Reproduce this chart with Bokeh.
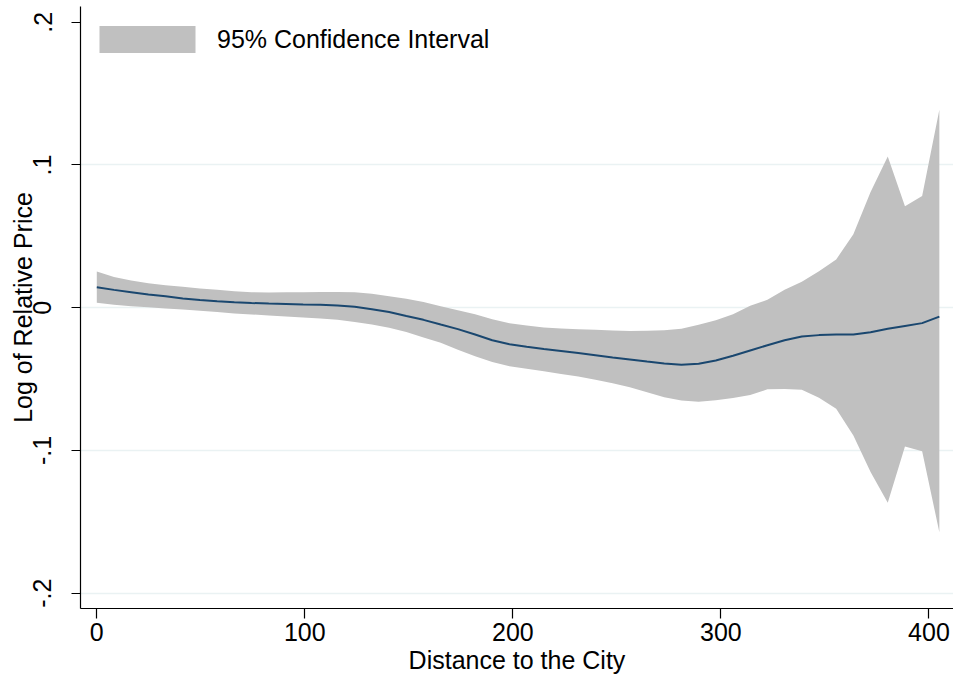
from bokeh.embed import file_html
from bokeh.models import (ColumnDataSource, FixedTicker, Legend, LegendItem,
                          Range1d)
from bokeh.plotting import figure
from bokeh.resources import INLINE

# Local polynomial fit of log relative price on distance, with 95% CI
distance = [0.0, 8.27, 16.53, 24.8, 33.06, 41.33, 49.59, 57.86, 66.12, 74.39,
            82.65, 90.92, 99.18, 107.45, 115.71, 123.98, 132.24, 140.51, 148.78, 157.04,
            165.31, 173.57, 181.84, 190.1, 198.37, 206.63, 214.9, 223.16, 231.43, 239.69,
            247.96, 256.22, 264.49, 272.76, 281.02, 289.29, 297.55, 305.82, 314.08, 322.35,
            330.61, 338.88, 347.14, 355.41, 363.67, 371.94, 380.2, 388.47, 396.73, 405.0]

fit = [0.0143, 0.0125, 0.0109, 0.0092, 0.0080, 0.0064, 0.0054, 0.0046, 0.0039, 0.0033,
       0.0029, 0.0026, 0.0023, 0.0021, 0.0016, 0.0006, -0.0010, -0.0030, -0.0058, -0.0085,
       -0.0118, -0.0150, -0.0188, -0.0228, -0.0256, -0.0274, -0.0290, -0.0303, -0.0318, -0.0333,
       -0.0348, -0.0362, -0.0377, -0.0390, -0.0400, -0.0392, -0.0370, -0.0337, -0.0300, -0.0263,
       -0.0228, -0.0202, -0.0192, -0.0188, -0.0188, -0.0172, -0.0148, -0.0128, -0.0108, -0.0062]

ci_upper = [0.0254, 0.0215, 0.0190, 0.0172, 0.0158, 0.0146, 0.0135, 0.0125, 0.0115, 0.0109,
            0.0107, 0.0108, 0.0109, 0.0110, 0.0110, 0.0108, 0.0098, 0.0080, 0.0062, 0.0040,
            0.0010, -0.0018, -0.0045, -0.0080, -0.0108, -0.0125, -0.0138, -0.0145, -0.0150, -0.0155,
            -0.0160, -0.0163, -0.0162, -0.0158, -0.0148, -0.0120, -0.0088, -0.0045, 0.0013, 0.0055,
            0.0125, 0.0182, 0.0255, 0.0338, 0.0515, 0.0810, 0.1060, 0.0710, 0.0782, 0.1386]

ci_lower = [0.0034, 0.0020, 0.0010, 0.0003, -0.0005, -0.0013, -0.0022, -0.0030, -0.0040, -0.0047,
            -0.0055, -0.0062, -0.0068, -0.0076, -0.0085, -0.0100, -0.0118, -0.0140, -0.0170, -0.0208,
            -0.0245, -0.0295, -0.0340, -0.0380, -0.0410, -0.0428, -0.0445, -0.0465, -0.0482, -0.0505,
            -0.0530, -0.0558, -0.0592, -0.0628, -0.0650, -0.0658, -0.0648, -0.0632, -0.0612, -0.0572,
            -0.0570, -0.0575, -0.0630, -0.0708, -0.0895, -0.1150, -0.1367, -0.0972, -0.1005, -0.1573]

y_ticks = [-0.2, -0.1, 0.0, 0.1, 0.2]
y_tick_labels = ["-.2", "-.1", "0", ".1", ".2"]
x_ticks = [0, 100, 200, 300, 400]

FONT = "Liberation Sans"
BAND = "#c0c0c0"
NAVY = "#1a476f"
GRID = "#eaf2f3"

src = ColumnDataSource(dict(x=distance, fit=fit, lo=ci_lower, hi=ci_upper))

p = figure(width=953, height=677, output_backend="svg", toolbar_location=None,
           x_range=Range1d(-7.83, 411.8), y_range=Range1d(-0.2107, 0.2110),
           min_border_left=80, min_border_right=0, min_border_top=6,
           min_border_bottom=69)
p.outline_line_color = None
p.background_fill_color = "white"
p.border_fill_color = "white"

band = p.varea(x="x", y1="lo", y2="hi", source=src, fill_color=BAND, fill_alpha=1.0)
p.line(x="x", y="fit", source=src, line_color=NAVY, line_width=2)

# axes
p.xaxis.ticker = FixedTicker(ticks=x_ticks)
p.yaxis.ticker = FixedTicker(ticks=y_ticks)
p.yaxis.major_label_overrides = {t: s for t, s in zip(y_ticks, y_tick_labels)}
p.yaxis.major_label_orientation = "parallel"
p.xaxis.axis_label = "Distance to the City"
p.yaxis.axis_label = "Log of Relative Price"
for ax in (p.xaxis[0], p.yaxis[0]):
    ax.axis_line_color = "black"
    ax.axis_line_width = 1.2
    ax.major_tick_line_color = "black"
    ax.major_tick_line_width = 1.2
    ax.minor_tick_line_color = None
    ax.major_tick_in = 0
    ax.major_label_text_font = FONT
    ax.major_label_text_font_size = "25px"
    ax.major_label_text_color = "black"
    ax.axis_label_text_font = FONT
    ax.axis_label_text_font_size = "25px"
    ax.axis_label_text_font_style = "normal"
    ax.axis_label_text_color = "black"
p.xaxis.major_tick_out = 10
p.yaxis.major_tick_out = 9
p.xaxis.major_label_standoff = 4
p.xaxis.axis_label_standoff = 2
p.yaxis.major_label_standoff = 20
p.yaxis.axis_label_standoff = -6

# grid: horizontal lines only, none at the top tick
p.xgrid.grid_line_color = None
p.ygrid.ticker = FixedTicker(ticks=[-0.2, -0.1, 0.0, 0.1])
p.ygrid.grid_line_color = GRID
p.ygrid.grid_line_width = 1.5

legend = Legend(items=[LegendItem(label="95% Confidence Interval", renderers=[band])],
                location=(7, 552), margin=0, padding=0, border_line_color=None,
                background_fill_alpha=0, glyph_width=120, glyph_height=34,
                label_standoff=10, label_text_font=FONT, label_text_font_size="25px",
                label_text_color="black")
p.add_layout(legend, "center")

open("out.html", "w").write(file_html(p, INLINE))
